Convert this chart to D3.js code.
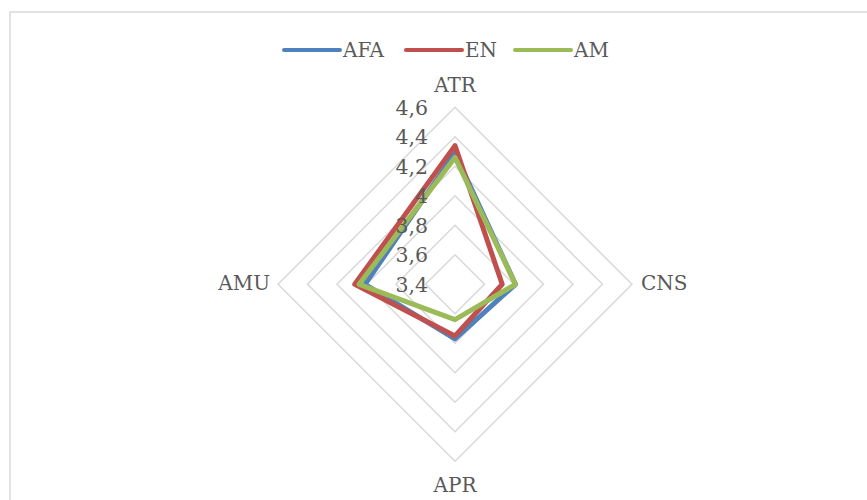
<!DOCTYPE html>
<html>
<head>
<meta charset="utf-8">
<script src="https://cdn.jsdelivr.net/npm/d3@7"></script>
<style>
  body { margin: 0; background: #fff; }
  text { font-family: "DejaVu Serif", serif; fill: #595959; }
</style>
</head>
<body>
<svg id="chart" width="867" height="500"></svg>
<script>
// axes clockwise from the top
const axes = ['ATR', 'CNS', 'APR', 'AMU']
const seriesNames = ['AFA', 'EN', 'AM']
const afa = [4.29, 3.81, 3.77, 4.01]
const en = [4.34, 3.72, 3.75, 4.08]
const am = [4.26, 3.81, 3.64, 4.05]
const ticks = [3.4, 3.6, 3.8, 4.0, 4.2, 4.4, 4.6]
const tickLabels = ['3,4', '3,6', '3,8', '4', '4,2', '4,4', '4,6']

const colors = ['#4f81bd', '#c0504d', '#9bbb59']
const series = [afa, en, am]

const svg = d3.select('#chart')
const cx = 455, cy = 284.3, R = 177

// chart border (runs off the right and bottom edge)
svg.append('rect')
  .attr('x', 10).attr('y', 12)
  .attr('width', 900).attr('height', 520)
  .attr('fill', 'none')
  .attr('stroke', '#d9d9d9')
  .attr('stroke-width', 1.5)

const r = d3.scaleLinear().domain([3.4, 4.6]).range([0, R])
const angle = d3.scalePoint().domain(axes).range([0, 2 * Math.PI * 3 / 4])

const pt = (axis, v) => {
  const a = angle(axis) - Math.PI / 2
  return [cx + r(v) * Math.cos(a), cy + r(v) * Math.sin(a)]
}

const line = d3.line().curve(d3.curveLinearClosed)

// grid rings
svg.append('g').selectAll('path')
  .data(ticks.slice(1))
  .join('path')
  .attr('d', t => line(axes.map(a => pt(a, t))))
  .attr('fill', 'none')
  .attr('stroke', '#d9d9d9')
  .attr('stroke-width', 1.5)

// series
svg.append('g').selectAll('path')
  .data(series)
  .join('path')
  .attr('d', s => line(axes.map((a, i) => pt(a, s[i]))))
  .attr('fill', 'none')
  .attr('stroke', (s, i) => colors[i])
  .attr('stroke-width', 5)
  .attr('stroke-linejoin', 'round')

// tick labels sit on top of the lines
svg.append('g').selectAll('text')
  .data(ticks)
  .join('text')
  .attr('x', cx - 27)
  .attr('y', t => cy - r(t) + 2)
  .attr('text-anchor', 'end')
  .attr('dominant-baseline', 'middle')
  .attr('font-size', 20.5)
  .text((t, i) => tickLabels[i])

// axis labels
const labelPos = {
  ATR: [cx, 86, 'middle'],
  CNS: [641, cy, 'start'],
  APR: [cx, 486, 'middle'],
  AMU: [270, cy, 'end']
}
svg.append('g').selectAll('text')
  .data(axes)
  .join('text')
  .attr('x', d => labelPos[d][0])
  .attr('y', d => labelPos[d][1])
  .attr('text-anchor', d => labelPos[d][2])
  .attr('dominant-baseline', 'middle')
  .attr('font-size', 20)
  .text(d => d)

// legend
const legendX = [284, 406, 515]
const lg = svg.append('g').selectAll('g')
  .data(seriesNames)
  .join('g')
  .attr('transform', (d, i) => `translate(${legendX[i]},50)`)
lg.append('line')
  .attr('x1', 0).attr('x2', 56)
  .attr('stroke', (d, i) => colors[i])
  .attr('stroke-width', 4)
  .attr('stroke-linecap', 'round')
lg.append('text')
  .attr('x', 59)
  .attr('y', 1)
  .attr('dominant-baseline', 'middle')
  .attr('font-size', 20)
  .text(d => d)
</script>
</body>
</html>
